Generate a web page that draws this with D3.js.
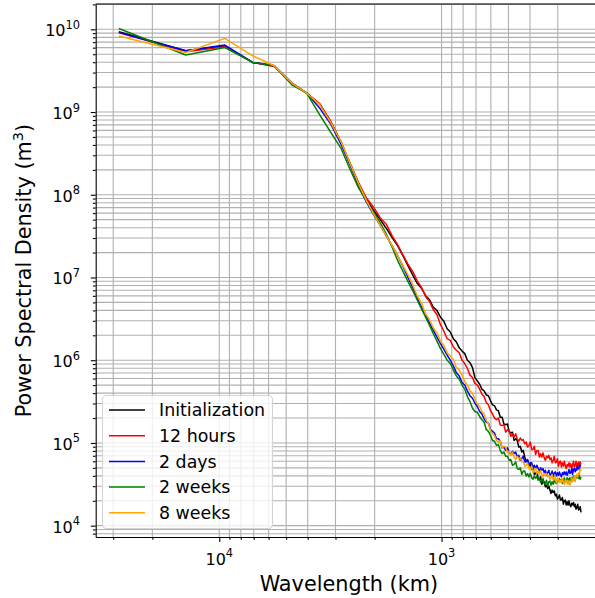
<!DOCTYPE html>
<html><head><meta charset="utf-8">
<script src="https://cdn.jsdelivr.net/npm/d3@7"></script>
<style>
html,body{margin:0;padding:0;background:#fff;}
svg{display:block;font-family:"DejaVu Sans",sans-serif;}
</style></head>
<body><svg id="chart" width="595" height="598"></svg>
<script>
// ---- x grid: wavenumber index 1..120, wavelength = circumference / (sqrt2 * k) (km)
const EARTH_CIRCUMFERENCE_KM = 40030;
const wavenumbers = d3.range(1, 121);
const wavelengthKm = wavenumbers.map(k => EARTH_CIRCUMFERENCE_KM / (Math.SQRT2 * k));

const seriesNames  = ["Initialization", "12 hours", "2 days", "2 weeks", "8 weeks"];
const seriesColors = ["black", "red", "blue", "green", "orange"];

// ---- log10 of power spectral density (m^3), k = 1..120
const log10PsdInit = [
9.97,9.74,9.80,9.60,9.56,9.35,9.23,9.10,8.88,8.63,
8.37,8.14,7.94,7.81,7.70,7.59,7.48,7.38,7.26,7.14,
7.03,6.93,6.87,6.78,6.73,6.64,6.60,6.52,6.47,6.38,
6.34,6.26,6.22,6.15,6.11,6.08,6.00,5.97,5.91,5.79,
5.75,5.71,5.65,5.63,5.58,5.57,5.51,5.46,5.45,5.40,
5.39,5.31,5.31,5.23,5.22,5.23,5.14,5.12,5.13,5.03,
5.05,5.03,4.95,4.96,4.89,4.91,4.83,4.78,4.79,4.74,
4.75,4.68,4.69,4.62,4.63,4.65,4.57,4.56,4.59,4.50,
4.54,4.53,4.47,4.49,4.45,4.48,4.43,4.39,4.43,4.40,
4.42,4.36,4.38,4.32,4.34,4.37,4.31,4.31,4.34,4.26,
4.30,4.31,4.25,4.29,4.25,4.30,4.25,4.23,4.27,4.25,
4.28,4.23,4.26,4.20,4.22,4.26,4.19,4.20,4.23,4.16];

const log10Psd12h = [
9.96,9.73,9.79,9.60,9.55,9.35,9.23,9.10,8.88,8.64,
8.37,8.14,7.96,7.85,7.72,7.64,7.50,7.39,7.27,7.16,
7.07,6.96,6.88,6.77,6.71,6.61,6.55,6.43,6.35,6.26,
6.24,6.16,6.12,6.09,6.00,5.96,5.90,5.82,5.79,5.72,
5.70,5.65,5.59,5.56,5.49,5.46,5.39,5.35,5.30,5.28,
5.30,5.22,5.21,5.22,5.13,5.16,5.15,5.08,5.11,5.07,
5.11,5.05,5.02,5.06,5.03,5.04,4.99,5.01,4.95,4.97,
5.01,4.92,4.92,4.96,4.86,4.91,4.91,4.83,4.87,4.83,
4.88,4.82,4.79,4.84,4.82,4.85,4.80,4.82,4.76,4.79,
4.84,4.76,4.77,4.81,4.72,4.77,4.78,4.71,4.76,4.72,
4.78,4.72,4.69,4.74,4.72,4.76,4.71,4.75,4.69,4.73,
4.78,4.71,4.73,4.78,4.69,4.75,4.77,4.71,4.77,4.74];

const log10Psd2d = [
9.96,9.74,9.81,9.60,9.56,9.35,9.23,9.05,8.85,8.61,
8.35,8.10,7.91,7.76,7.63,7.50,7.38,7.26,7.13,7.00,
6.88,6.75,6.64,6.54,6.45,6.36,6.28,6.20,6.13,6.06,
6.00,5.93,5.85,5.81,5.73,5.70,5.63,5.57,5.54,5.48,
5.44,5.38,5.35,5.29,5.25,5.24,5.16,5.14,5.12,5.05,
5.05,5.02,4.94,4.95,4.91,4.94,4.89,4.86,4.90,4.87,
4.89,4.83,4.85,4.79,4.81,4.84,4.77,4.77,4.80,4.72,
4.76,4.76,4.70,4.73,4.69,4.73,4.69,4.66,4.70,4.67,
4.69,4.64,4.67,4.61,4.64,4.67,4.61,4.62,4.66,4.59,
4.64,4.65,4.60,4.64,4.61,4.65,4.61,4.59,4.64,4.62,
4.65,4.62,4.65,4.61,4.64,4.68,4.63,4.64,4.69,4.62,
4.68,4.69,4.65,4.69,4.67,4.73,4.69,4.68,4.73,4.72];

const log10Psd2w = [
10.01,9.69,9.78,9.60,9.56,9.33,9.23,8.97,8.75,8.56,
8.30,8.08,7.93,7.79,7.66,7.52,7.36,7.20,7.07,6.95,
6.84,6.73,6.62,6.52,6.42,6.32,6.23,6.14,6.07,6.00,
5.96,5.88,5.81,5.77,5.70,5.65,5.56,5.50,5.42,5.38,
5.37,5.32,5.28,5.25,5.16,5.14,5.09,5.03,5.02,4.97,
4.98,4.91,4.87,4.89,4.84,4.84,4.79,4.80,4.73,4.74,
4.77,4.69,4.68,4.70,4.62,4.66,4.66,4.60,4.63,4.59,
4.63,4.58,4.56,4.60,4.57,4.60,4.55,4.57,4.52,4.54,
4.57,4.51,4.51,4.55,4.48,4.53,4.54,4.49,4.53,4.50,
4.56,4.52,4.51,4.56,4.54,4.57,4.53,4.56,4.51,4.54,
4.58,4.53,4.54,4.58,4.51,4.57,4.58,4.53,4.58,4.55,
4.60,4.56,4.54,4.60,4.58,4.61,4.57,4.61,4.56,4.59];

const log10Psd8w = [
9.92,9.72,9.89,9.68,9.56,9.35,9.23,9.09,8.87,8.64,
8.37,8.13,7.93,7.77,7.63,7.50,7.38,7.26,7.14,7.03,
6.91,6.78,6.69,6.56,6.49,6.39,6.33,6.23,6.18,6.09,
6.05,6.01,5.91,5.88,5.82,5.74,5.70,5.63,5.60,5.53,
5.47,5.44,5.38,5.35,5.27,5.23,5.15,5.11,5.09,5.03,
5.01,5.03,4.94,4.96,4.95,4.88,4.90,4.85,4.89,4.83,
4.80,4.84,4.81,4.82,4.77,4.78,4.72,4.73,4.76,4.69,
4.69,4.72,4.64,4.68,4.69,4.63,4.66,4.62,4.67,4.62,
4.59,4.63,4.61,4.63,4.59,4.61,4.56,4.58,4.62,4.55,
4.56,4.60,4.52,4.56,4.57,4.52,4.55,4.52,4.57,4.52,
4.50,4.55,4.52,4.55,4.50,4.54,4.49,4.53,4.58,4.53,
4.55,4.60,4.54,4.60,4.62,4.59,4.64,4.62,4.69,4.66];

const xMajorExponents = [3, 4];
const yMajorExponents = [4, 5, 6, 7, 8, 9, 10];

// ---- build series table
const seriesLogValues = [log10PsdInit, log10Psd12h, log10Psd2d, log10Psd2w, log10Psd8w];
const series = seriesNames.map((name, i) => ({
  name, color: seriesColors[i],
  points: wavelengthKm.map((w, j) => ({w, v: Math.pow(10, seriesLogValues[i][j])}))
}));

// ---- layout
const L = 95.7, R = 604.1, T = 4, B = 537;
const svg = d3.select("#chart");
const x = d3.scaleLog().domain([Math.pow(10, 4.5559), Math.pow(10, 2.2687)]).range([L, R]);
const y = d3.scaleLog().domain([Math.pow(10, 3.863), Math.pow(10, 10.306)]).range([B, T]);

function logTicks(scale) {
  const [a, b] = d3.extent(scale.domain());
  const out = [];
  for (let e = Math.floor(Math.log10(a)); e <= Math.ceil(Math.log10(b)); e++) {
    for (let m = 1; m <= 9; m++) {
      const v = m * Math.pow(10, e);
      if (v >= a && v <= b) out.push(v);
    }
  }
  return out;
}
const xAll = logTicks(x), yAll = logTicks(y);
const isMajor = v => Math.abs(Math.log10(v) - Math.round(Math.log10(v))) < 1e-9;

// grid
const grid = svg.append("g").attr("stroke", "#b0b0b0").attr("stroke-width", 1.1);
grid.selectAll("line.gx").data(xAll).join("line")
  .attr("x1", d => x(d)).attr("x2", d => x(d)).attr("y1", T).attr("y2", B);
grid.selectAll("line.gy").data(yAll).join("line")
  .attr("x1", L).attr("x2", R).attr("y1", d => y(d)).attr("y2", d => y(d));

// data lines
svg.append("clipPath").attr("id", "clip").append("rect")
  .attr("x", L).attr("y", T).attr("width", R - L).attr("height", B - T);
const line = d3.line().x(d => x(d.w)).y(d => y(d.v));
svg.append("g").attr("clip-path", "url(#clip)")
  .selectAll("path").data(series).join("path")
  .attr("fill", "none").attr("stroke", d => d.color).attr("stroke-width", 1.5)
  .attr("stroke-linejoin", "round")
  .attr("d", d => line(d.points));

// axes (ticks via d3 axis)
const xMinor = xAll.filter(v => !isMajor(v)), xMajor = xAll.filter(isMajor);
const yMinor = yAll.filter(v => !isMajor(v)), yMajor = yAll.filter(isMajor);
function styleAxis(g) {
  g.selectAll("path.domain").attr("stroke", "#000").attr("stroke-width", 1.1);
  g.selectAll(".tick line").attr("stroke", "#000").attr("stroke-width", 1.1);
  g.selectAll(".tick text").remove();
}
svg.append("g").attr("transform", `translate(0,${B})`)
  .call(d3.axisBottom(x).tickValues(xMinor).tickSize(2.8).tickSizeOuter(0).tickFormat(""))
  .call(styleAxis);
const xMajG = svg.append("g").attr("transform", `translate(0,${B})`)
  .call(d3.axisBottom(x).tickValues(xMajor).tickSize(4.9).tickSizeOuter(0).tickFormat(""))
  .call(styleAxis);
xMajG.select("path.domain").remove();
svg.append("g").attr("transform", `translate(${L},0)`)
  .call(d3.axisLeft(y).tickValues(yMinor).tickSize(2.8).tickSizeOuter(0).tickFormat(""))
  .call(styleAxis);
const yMajG = svg.append("g").attr("transform", `translate(${L},0)`)
  .call(d3.axisLeft(y).tickValues(yMajor).tickSize(4.9).tickSizeOuter(0).tickFormat(""))
  .call(styleAxis);
yMajG.select("path.domain").remove();
// top spine
svg.append("line").attr("x1", L).attr("x2", R).attr("y1", T).attr("y2", T)
  .attr("stroke", "#000").attr("stroke-width", 1.1);

// tick labels with superscripts
const FS = 16, SUP = 11.4;
xMajorExponents.forEach(e => {
  const t = svg.append("text").attr("x", x(Math.pow(10, e))).attr("y", 564.5)
    .attr("text-anchor", "middle").attr("font-size", FS).attr("fill", "#000");
  t.append("tspan").text("10");
  t.append("tspan").attr("dy", -7.5).attr("font-size", SUP).text(String(e));
});
yMajorExponents.forEach(e => {
  const t = svg.append("text").attr("x", 80).attr("y", y(Math.pow(10, e)) + 7)
    .attr("text-anchor", "end").attr("font-size", FS).attr("fill", "#000");
  t.append("tspan").text("10");
  t.append("tspan").attr("dy", -7.5).attr("font-size", SUP).text(String(e));
});

// axis labels
svg.append("text").attr("x", (L + R) / 2 - 1).attr("y", 591)
  .attr("text-anchor", "middle").attr("font-size", 20.8).attr("fill", "#000")
  .text("Wavelength (km)");
const yl = svg.append("text").attr("transform", `translate(31,${(T + B) / 2}) rotate(-90)`)
  .attr("text-anchor", "middle").attr("font-size", 20.8).attr("fill", "#000");
yl.append("tspan").text("Power Spectral Density (m");
yl.append("tspan").attr("dy", -8).attr("font-size", 14.5).text("3");
yl.append("tspan").attr("dy", 8).text(")");

// legend
const lg = svg.append("g");
lg.append("rect").attr("x", 102.5).attr("y", 395.5).attr("width", 170).attr("height", 133)
  .attr("rx", 4).attr("fill", "#fff").attr("fill-opacity", 0.8)
  .attr("stroke", "#d4d4d4").attr("stroke-width", 1.1);
const rows = lg.selectAll("g.row").data(series).join("g")
  .attr("transform", (d, i) => `translate(0,${410 + i * 25.7})`);
rows.append("line").attr("x1", 109).attr("x2", 145).attr("y1", 0).attr("y2", 0)
  .attr("stroke", d => d.color).attr("stroke-width", 1.5);
rows.append("text").attr("x", 159).attr("y", 6.3).attr("font-size", 17.4).attr("fill", "#000")
  .text(d => d.name);
</script></body></html>
